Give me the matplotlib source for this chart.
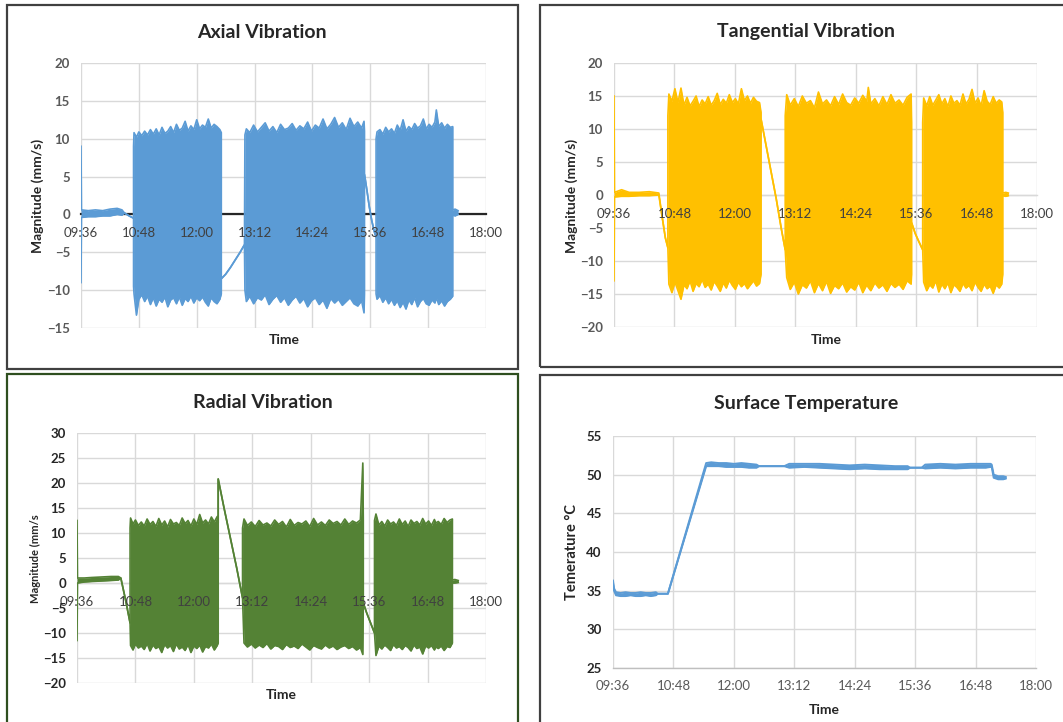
import matplotlib
matplotlib.use('Agg')
import matplotlib.pyplot as plt
from matplotlib.patches import Rectangle
from matplotlib.ticker import FuncFormatter, MultipleLocator

plt.rcParams['font.family'] = ['Lato', 'DejaVu Sans']

# ---- data (time in decimal hours) ----
# Axial vibration: envelope of the signal (hi / lo), hi == lo where it is a single line
AX_T = [9.60, 9.61, 9.75, 9.90, 10.05, 10.20, 10.35, 10.45, 10.50, 10.60, 10.69,
        10.69, 10.70, 10.75, 10.80, 10.86, 10.92, 10.98, 11.04, 11.10, 11.16, 11.22, 11.28,
        11.34, 11.40, 11.46, 11.52, 11.58, 11.64, 11.70, 11.76, 11.82, 11.88, 11.94, 12.00,
        12.06, 12.12, 12.18, 12.24, 12.30, 12.36, 12.42, 12.48, 12.51,
        12.51, 12.60, 12.70, 12.80, 12.90, 12.99,
        13.00, 13.03, 13.10, 13.18, 13.26, 13.34, 13.42, 13.50, 13.58, 13.66, 13.74, 13.82,
        13.90, 13.98, 14.06, 14.14, 14.22, 14.30, 14.38, 14.46, 14.54, 14.62, 14.70, 14.78,
        14.86, 14.94, 15.02, 15.10, 15.18, 15.26, 15.34, 15.42, 15.47, 15.48,
        15.48, 15.53, 15.58, 15.63, 15.68, 15.72,
        15.72, 15.74, 15.80, 15.86, 15.92, 15.98, 16.04, 16.10, 16.16, 16.22, 16.28, 16.34,
        16.40, 16.46, 16.52, 16.58, 16.64, 16.70, 16.76, 16.82, 16.88, 16.94, 16.97, 17.02,
        17.08, 17.14, 17.20, 17.26, 17.31,
        17.31, 17.36, 17.42]
AX_HI = [9.0, 0.6, 0.5, 0.6, 0.5, 0.7, 0.8, 0.6, 0.2, -0.2, -0.5,
         9.0, 10.8, 10.2, 10.9, 10.4, 11.0, 10.5, 11.2, 10.6, 11.3, 10.5, 11.5,
         10.7, 11.0, 11.6, 10.8, 11.9, 11.1, 11.4, 12.3, 11.0, 11.7, 11.2, 12.5,
         11.3, 11.8, 11.5, 12.6, 11.4, 11.9, 11.6, 11.2, 10.8,
         -8.5, -7.9, -7.0, -6.0, -5.0, -4.0,
         10.5, 11.3, 10.8, 11.8, 10.9, 11.5, 12.1, 11.0, 11.6, 10.8, 11.9, 11.2,
         11.4, 12.0, 11.1, 11.7, 11.3, 12.2, 11.0, 11.8, 11.4, 12.6, 11.3, 11.9,
         12.8, 11.5, 12.1, 11.2, 12.7, 11.6, 12.2, 11.4, 12.3, 11.0,
         5.3, 3.2, 1.0, -0.8, -2.2, -3.0,
         10.0, 10.9, 11.2, 10.6, 11.5, 10.9, 11.3, 10.7, 11.8, 11.1, 12.5, 11.0,
         11.6, 11.2, 12.0, 11.4, 11.7, 12.6, 11.3, 11.9, 11.5, 12.2, 13.8, 11.6,
         12.1, 11.4, 11.9, 11.5, 11.6,
         0.6, 0.7, 0.5]
AX_LO = [-9.0, -0.4, -0.3, -0.3, -0.2, -0.2, 0.0, -0.1, 0.2, -0.2, -0.5,
         -9.5, -10.5, -13.3, -11.2, -10.6, -11.5, -10.8, -11.9, -11.0, -12.1, -11.2, -11.6,
         -10.9, -12.2, -11.3, -11.0, -11.8, -10.9, -12.0, -11.1, -11.5, -10.8, -11.7, -11.0,
         -11.4, -10.9, -11.6, -12.1, -11.0, -11.5, -11.8, -11.2, -10.5,
         -8.5, -7.9, -7.0, -6.0, -5.0, -4.0,
         -10.0, -11.5, -10.8, -11.8, -11.0, -11.3, -10.6, -11.9, -11.2, -10.7, -11.6, -11.0,
         -12.0, -11.3, -10.8, -11.7, -11.1, -12.2, -11.4, -11.0, -11.9, -11.3, -12.4, -11.1,
         -11.7, -11.2, -12.0, -11.5, -11.0, -11.8, -12.1, -11.4, -13.0, -10.5,
         5.3, 3.2, 1.0, -0.8, -2.2, -3.0,
         -10.5, -11.2, -10.7, -11.6, -11.0, -11.8, -11.2, -12.0, -11.4, -12.3, -11.6, -12.5,
         -11.3, -11.9, -11.0, -12.2, -11.5, -11.1, -11.8, -12.0, -11.3, -11.7, -11.0, -11.9,
         -11.4, -12.1, -11.5, -11.2, -10.8,
         -0.1, -0.2, 0.0]

# Tangential vibration
TA_T = [9.60, 9.61, 9.75, 9.90, 10.10, 10.30, 10.49, 10.55, 10.62, 10.67,
        10.67, 10.69, 10.75, 10.81, 10.87, 10.93, 10.99, 11.05, 11.11, 11.17, 11.23, 11.29,
        11.35, 11.41, 11.47, 11.53, 11.59, 11.65, 11.71, 11.77, 11.83, 11.89, 11.95, 12.01,
        12.07, 12.13, 12.19, 12.25, 12.31, 12.37, 12.43, 12.49, 12.52,
        12.52, 12.62, 12.72, 12.82, 12.92, 13.00,
        13.00, 13.03, 13.10, 13.18, 13.26, 13.34, 13.42, 13.50, 13.58, 13.66, 13.74, 13.82,
        13.90, 13.98, 14.06, 14.14, 14.22, 14.30, 14.38, 14.46, 14.54, 14.62, 14.65, 14.70,
        14.78, 14.86, 14.94, 15.02, 15.10, 15.18, 15.26, 15.34, 15.42, 15.50, 15.51,
        15.51, 15.58, 15.65, 15.73,
        15.73, 15.75, 15.81, 15.87, 15.93, 15.99, 16.05, 16.11, 16.17, 16.23, 16.29, 16.35,
        16.41, 16.47, 16.53, 16.59, 16.65, 16.71, 16.77, 16.83, 16.89, 16.95, 17.01, 17.07,
        17.13, 17.19, 17.25, 17.30, 17.32,
        17.32, 17.38, 17.43]
TA_HI = [15.0, 0.4, 0.8, 0.4, 0.4, 0.5, 0.3, -3.0, -6.5, -8.0,
         12.0, 15.3, 14.2, 16.1, 14.0, 16.2, 13.6, 14.8, 13.5, 14.2, 15.0, 13.4,
         14.4, 13.8, 14.9, 13.6, 14.3, 15.4, 13.7, 14.5, 13.9, 15.2, 14.0, 14.6,
         13.8, 16.1, 14.3, 15.0, 13.9, 14.8, 14.2, 14.0, 12.5,
         11.5, 7.5, 3.5, -0.5, -5.0, -8.3,
         12.0, 15.2, 13.6, 14.6, 13.4, 15.0, 13.9, 14.3, 13.2, 15.6, 13.8, 14.4,
         13.5, 14.9, 13.7, 15.3, 14.0, 13.6, 14.7, 13.9, 15.1, 14.2, 16.3, 13.8,
         14.6, 13.5, 14.9, 13.7, 15.2, 13.9, 14.4, 13.6, 14.8, 15.3, 11.0,
         -4.2, -5.8, -7.0, -8.3,
         11.0, 14.7, 13.5, 14.9, 13.6, 14.4, 15.2, 13.8, 14.6, 13.4, 15.0, 13.9,
         14.3, 13.6, 15.3, 13.8, 14.5, 16.0, 13.9, 14.7, 13.5, 15.8, 14.2, 13.7,
         14.9, 13.9, 14.4, 14.1, 12.5,
         0.3, 0.4, 0.3]
TA_LO = [-13.0, -0.3, -0.2, -0.2, -0.1, -0.1, 0.0, -3.0, -6.5, -8.0,
         -8.0, -13.5, -14.8, -13.2, -14.5, -15.8, -13.6, -14.2, -13.0, -14.6, -13.4, -13.9,
         -12.8, -14.0, -13.5, -14.4, -13.1, -13.8, -14.6, -13.3, -14.1, -12.9, -13.7, -14.3,
         -13.2, -13.9, -13.4, -14.2, -13.6, -13.0, -13.8, -13.4, -12.0,
         11.5, 7.5, 3.5, -0.5, -5.0, -8.3,
         -8.3, -12.5, -14.3, -13.2, -15.0, -13.6, -14.1, -13.0, -14.8, -13.4, -14.5, -13.1,
         -14.9, -13.7, -14.2, -13.3, -14.7, -13.9, -14.4, -13.2, -14.8, -13.6, -14.0, -14.5,
         -13.3, -14.1, -13.6, -14.6, -13.4, -14.0, -13.5, -14.3, -13.0, -13.5, -12.0,
         -4.2, -5.8, -7.0, -8.3,
         -8.3, -13.2, -14.5, -13.6, -14.1, -13.0, -14.7, -13.5, -14.2, -13.3, -14.8, -13.6,
         -14.0, -14.6, -13.4, -14.1, -13.7, -14.5, -13.2, -14.0, -14.6, -13.5, -14.2, -13.8,
         -14.9, -13.6, -14.1, -13.5, -12.0,
         -0.1, -0.2, -0.1]

# Radial vibration
RA_T = [9.60, 9.61, 9.75, 9.90, 10.10, 10.30, 10.45, 10.50, 10.60, 10.69,
        10.69, 10.70, 10.75, 10.80, 10.86, 10.92, 10.98, 11.04, 11.10, 11.16, 11.22, 11.28,
        11.34, 11.40, 11.46, 11.52, 11.58, 11.64, 11.70, 11.76, 11.82, 11.88, 11.94, 12.00,
        12.06, 12.12, 12.18, 12.24, 12.30, 12.36, 12.42, 12.48, 12.50,
        12.50, 12.62, 12.75, 12.88, 13.00,
        13.00, 13.03, 13.10, 13.18, 13.26, 13.34, 13.42, 13.50, 13.58, 13.66, 13.74, 13.82,
        13.90, 13.98, 14.06, 14.14, 14.22, 14.30, 14.38, 14.46, 14.54, 14.62, 14.70, 14.78,
        14.86, 14.94, 15.02, 15.10, 15.18, 15.26, 15.34, 15.42, 15.47, 15.48,
        15.48, 15.55, 15.63, 15.71,
        15.71, 15.74, 15.80, 15.86, 15.92, 15.98, 16.04, 16.10, 16.16, 16.22, 16.28, 16.34,
        16.40, 16.46, 16.52, 16.58, 16.64, 16.70, 16.76, 16.82, 16.88, 16.94, 16.97, 17.02,
        17.08, 17.14, 17.20, 17.26, 17.31,
        17.31, 17.36, 17.43]
RA_HI = [12.5, 1.0, 1.0, 1.1, 1.2, 1.3, 1.3, 1.0, -3.5, -8.0,
         11.0, 13.0, 11.8, 12.6, 11.5, 12.2, 11.4, 12.8, 11.7, 12.3, 11.3, 12.9,
         11.6, 12.4, 11.2, 12.7, 11.8, 12.1, 11.5, 13.0, 11.9, 12.5, 11.4, 12.8,
         11.7, 13.7, 12.0, 12.6, 11.8, 13.2, 12.2, 13.3, 12.0,
         20.8, 15.0, 9.0, 3.0, -3.0,
         11.0, 12.8, 11.5, 12.2, 11.3, 12.5, 11.6, 12.0, 11.4, 12.6, 11.7, 12.3,
         11.2, 12.7, 11.5, 12.1, 11.8, 12.4, 11.3, 12.9, 11.6, 12.2, 11.5, 12.6,
         11.9, 12.3, 11.6, 12.8, 11.7, 12.4, 12.0, 12.6, 24.0, 12.5,
         -4.0, -6.0, -8.0, -10.0,
         12.5, 13.8, 11.6, 12.3, 11.4, 12.6, 11.8, 12.2, 11.5, 12.8, 11.7, 12.4,
         11.3, 12.6, 11.9, 12.3, 11.6, 12.9, 11.8, 12.4, 11.5, 12.7, 12.0, 12.3,
         11.7, 12.9, 12.1, 12.6, 12.8,
         0.6, 0.7, 0.5]
RA_LO = [-11.5, 0.0, 0.2, 0.3, 0.4, 0.5, 0.6, 1.0, -3.5, -8.0,
         -8.0, -12.5, -13.4, -12.2, -13.0, -12.6, -13.3, -12.1, -13.6, -12.4, -13.1, -12.7,
         -13.9, -12.3, -13.0, -12.5, -13.7, -12.2, -13.2, -12.8, -13.5, -12.3, -13.9, -12.6,
         -13.1, -12.4, -13.8, -12.7, -13.0, -12.2, -13.4, -12.5, -12.0,
         20.8, 15.0, 9.0, 3.0, -3.0,
         -3.0, -12.0, -12.8, -12.2, -13.0, -12.4, -12.9, -12.1, -13.2, -12.5, -12.7, -13.3,
         -12.3, -12.9, -12.6, -13.1, -12.2, -12.8, -13.4, -12.5, -12.9, -13.2, -12.4, -13.0,
         -12.6, -13.3, -12.8, -12.5, -13.1, -12.7, -13.4, -12.9, -14.3, -4.0,
         -4.0, -6.0, -8.0, -10.0,
         -10.0, -14.5, -12.6, -13.2, -12.4, -12.9, -13.5, -12.3, -13.0, -12.7, -13.3, -12.5,
         -12.9, -13.6, -12.4, -13.1, -12.8, -14.2, -12.6, -13.0, -12.5, -13.4, -12.8, -13.1,
         -12.6, -13.5, -12.7, -12.9, -12.0,
         0.0, 0.0, 0.1]

# Surface temperature (band of the noisy trace)
TE_T = [9.60, 9.62, 9.66, 9.75, 9.85, 9.95, 10.05, 10.15, 10.25, 10.35, 10.45, 10.49,
        10.69, 11.45, 11.55, 11.70, 11.85, 12.00, 12.15, 12.30, 12.45, 12.50,
        13.00, 13.10, 13.40, 13.70, 14.00, 14.30, 14.60, 14.90, 15.20, 15.45, 15.50,
        15.73, 15.80, 16.10, 16.40, 16.70, 17.00, 17.10, 17.12, 17.16, 17.25, 17.35, 17.40]
TE_HI = [36.3, 35.3, 34.8, 34.7, 34.8, 34.7, 34.7, 34.8, 34.7, 34.7, 34.8, 34.6,
         34.6, 51.5, 51.6, 51.5, 51.5, 51.4, 51.5, 51.4, 51.3, 51.1,
         51.1, 51.4, 51.4, 51.4, 51.3, 51.2, 51.3, 51.2, 51.1, 51.1, 50.9,
         50.9, 51.3, 51.4, 51.3, 51.4, 51.4, 51.4, 51.3, 50.0, 49.8, 49.8, 49.7]
TE_LO = [36.0, 35.0, 34.4, 34.3, 34.3, 34.4, 34.3, 34.3, 34.4, 34.3, 34.4, 34.6,
         34.6, 51.1, 51.1, 51.1, 51.0, 51.0, 51.0, 50.9, 50.9, 51.1,
         51.1, 50.9, 51.0, 50.9, 50.8, 50.7, 50.8, 50.7, 50.7, 50.7, 50.9,
         50.9, 50.8, 50.9, 50.8, 50.9, 50.9, 51.0, 51.0, 49.6, 49.4, 49.4, 49.5]

X_TICKS = [9.6, 10.8, 12.0, 13.2, 14.4, 15.6, 16.8, 18.0]

BLUE = '#5B9BD5'
GOLD = '#FFC000'
GREEN = '#548235'
GRID = '#D9D9D9'
TICKC = '#595959'

W, H = 1063, 722
fig = plt.figure(figsize=(W / 100, H / 100), dpi=100)


def px_axes(x0, y0, x1, y1):
    return fig.add_axes([x0 / W, 1 - y1 / H, (x1 - x0) / W, (y1 - y0) / H])


def hhmm(h, pos=None):
    m = int(round(h * 60))
    return '%02d:%02d' % (m // 60, m % 60)


def style(ax, ylim, ystep, zero_color=GRID, zero_lw=1.0, xcolor='#404040',
          ycolor=TICKC, at_zero=True):
    ax.set_xlim(9.6, 18.0)
    ax.set_ylim(*ylim)
    ax.set_xticks(X_TICKS)
    ax.xaxis.set_major_formatter(FuncFormatter(hhmm))
    ax.yaxis.set_major_locator(MultipleLocator(ystep))
    # gridlines drawn by hand below the data, so tick labels can sit above it
    for x in X_TICKS:
        ax.axvline(x, color=GRID, linewidth=1.0, zorder=0.5)
    y = ylim[0]
    while y <= ylim[1] + 1e-9:
        ax.axhline(y, color=GRID, linewidth=1.0, zorder=0.5)
        y += ystep
    ax.xaxis.set_zorder(5)
    ax.yaxis.set_zorder(5)
    for s in ['top', 'right', 'left']:
        ax.spines[s].set_visible(False)
    if at_zero:
        ax.spines['bottom'].set_position(('data', 0))
    ax.spines['bottom'].set_color(zero_color)
    ax.spines['bottom'].set_linewidth(zero_lw)
    ax.spines['bottom'].set_zorder(1)
    ax.tick_params(axis='both', length=0, labelsize=9.5)
    ax.tick_params(axis='x', pad=9, labelcolor=xcolor)
    ax.tick_params(axis='y', pad=8, labelcolor=ycolor)
    for lab in ax.get_yticklabels():
        lab.set_fontweight('bold')


def draw_signal(ax, t, hi, lo, color, lw=1.2):
    ax.fill_between(t, lo, hi, color=color, linewidth=0, zorder=2)
    ax.plot(t, hi, color=color, linewidth=lw, zorder=2)
    ax.plot(t, lo, color=color, linewidth=lw, zorder=2)


# Axial
ax1 = px_axes(81, 63, 486, 328)
draw_signal(ax1, AX_T, AX_HI, AX_LO, BLUE)
style(ax1, (-15, 20), 5, zero_color='#262626', zero_lw=1.6)

# Tangential
ax2 = px_axes(614, 63, 1037, 327)
draw_signal(ax2, TA_T, TA_HI, TA_LO, GOLD)
style(ax2, (-20, 20), 5)

# Radial
ax3 = px_axes(77, 433, 486, 683)
draw_signal(ax3, RA_T, RA_HI, RA_LO, GREEN)
style(ax3, (-20, 30), 5, ycolor='#262626')

# Temperature
ax4 = px_axes(613, 436, 1036, 668)
draw_signal(ax4, TE_T, TE_HI, TE_LO, BLUE, lw=1.4)
style(ax4, (25, 55), 5, zero_color='#BFBFBF', xcolor=TICKC, ycolor='#262626', at_zero=False)


# titles and axis labels
def ftext(x, y, s, size, rot=0, color='#262626'):
    fig.text(x / W, 1 - y / H, s, fontsize=size, fontweight='bold', color=color,
             ha='center', va='center', rotation=rot)


ftext(262, 32, 'Axial Vibration', 14)
ftext(806, 32, 'Tangential Vibration', 14)
ftext(263, 402, 'Radial Vibration', 14)
ftext(806, 403, 'Surface Temperature', 14)

ftext(284, 340, 'Time', 10)
ftext(826, 340, 'Time', 10)
ftext(281, 695, 'Time', 10)
ftext(824, 710, 'Time', 10)

ftext(38, 196, 'Magnitude (mm/s)', 10, rot=90)
ftext(572, 196, 'Magnitude (mm/s)', 10, rot=90)
ftext(35, 559, 'Magnitude (mm/s', 8, rot=90)
ftext(572, 552, 'Temerature °C', 10.5, rot=90)


# panel frames
def frame(x0, y0, x1, y1, color='#404040'):
    fig.patches.append(Rectangle((x0 / W, 1 - y1 / H), (x1 - x0) / W, (y1 - y0) / H,
                                 transform=fig.transFigure, fill=False,
                                 edgecolor=color, linewidth=1.6))


frame(7, 5, 518, 369)
frame(540, 5, 1070, 367)
frame(7, 374, 518, 730, color='#2F4F1F')
frame(540, 375, 1070, 730)

fig.savefig('out.png', dpi=100)
